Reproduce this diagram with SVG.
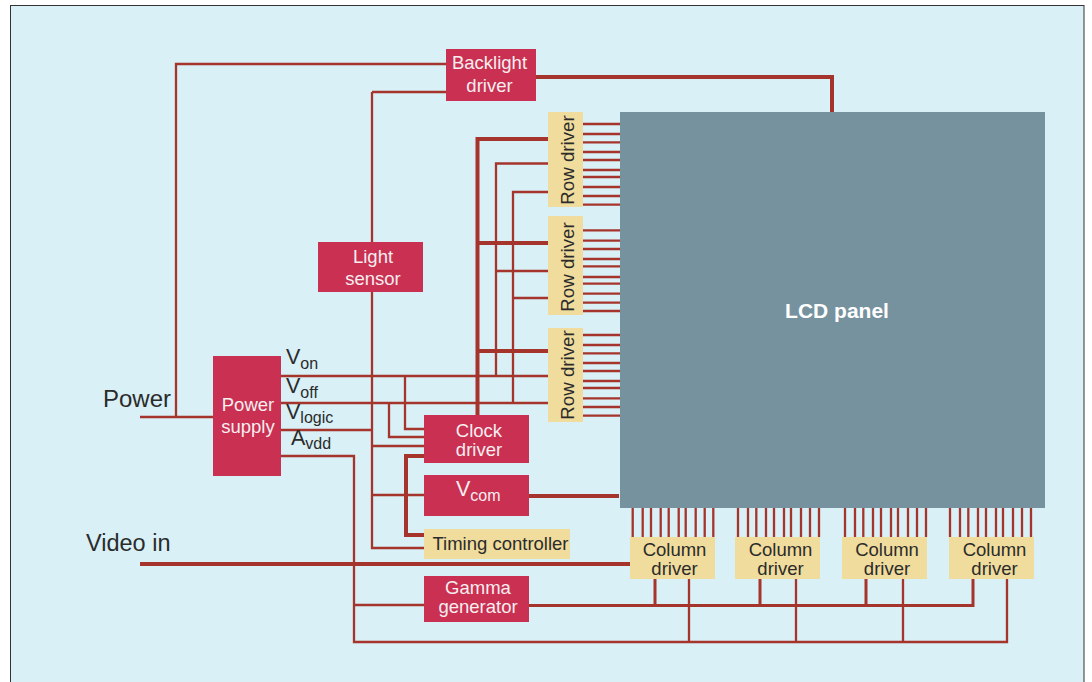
<svg xmlns="http://www.w3.org/2000/svg" width="1092" height="682" viewBox="0 0 1092 682">
<style>
text{font-family:"Liberation Sans",Arial,sans-serif;font-size:18.5px;text-anchor:middle;fill:#2b2b2b}
.red{fill:#c93052}.tan{fill:#f0dc9c}
.w{fill:#f7eef0}
.ext{font-size:24px;text-anchor:start}
.v{font-size:21.5px;text-anchor:start}
.sub{font-size:16px}
.c path{fill:none;stroke:#a5352c;stroke-width:2.3}
.c path.t{stroke-width:4}
.c path.m{stroke-width:3}
.rd{font-size:18.7px}
</style>
<rect width="1092" height="682" fill="#fff"/>
<rect x="10.500" y="5.500" width="1073.500" height="690" fill="#d8f0f6" stroke="#333" stroke-width="1"/>
<g id="connectors" class="c">
<path d="M140 417H213M176 417V64H446M372 92H446M372 92V548H424M372 446H424M372 495H424"/>
<path d="M281 376H548M281 403H548M281 430H372M281 456H354V642H1007V579M354 605H424"/>
<path d="M405 376V429H424M389 403V437H424"/>
<path class="t" d="M424 456H406V535H424"/>
<path class="t" d="M529 496H619"/>
<path class="t" d="M140 564H630"/>
<path class="t" d="M536 77H832V112"/>
<path class="t" d="M477.500 415V139H548M477.500 243H548M477.500 351H548"/>
<path d="M496 376V163.500H548M496 271H548M513 403V192H548M513 298H548"/>
<path class="m" d="M529 605.500H973V579M655 579V605.500M760 579V605.500M866 579V605.500"/>
<path d="M689 579V642M796 579V642M903 579V642"/>
<path d="M583 124H620M583 134H620M583 142.300H620M583 152H620M583 160H620M583 170H620M583 177H620M583 187H620M583 196H620M583 204.700H620"/>
<path d="M583 230.300H620M583 240.700H620M583 249H620M583 259H620M583 266.300H620M583 277H620M583 283.700H620M583 293.700H620M583 302.700H620M583 311H620"/>
<path d="M583 335H620M583 345H620M583 353.300H620M583 363H620M583 371H620M583 381H620M583 388H620M583 398.300H620M583 407H620M583 415.700H620"/>
<path d="M632.700 508V537M642.700 508V537M651 508V537M660.700 508V537M668.700 508V537M678.700 508V537M685.700 508V537M695.700 508V537M704.700 508V537M713.300 508V537"/>
<path d="M738 508V537M748 508V537M756.300 508V537M766 508V537M774 508V537M784 508V537M791 508V537M801 508V537M810 508V537M819 508V537"/>
<path d="M845 508V537M855 508V537M863.300 508V537M873 508V537M881 508V537M891 508V537M898 508V537M908 508V537M917 508V537M926 508V537"/>
<path d="M950 508V537M960 508V537M968.300 508V537M978 508V537M986 508V537M996 508V537M1003 508V537M1013 508V537M1022 508V537M1031 508V537"/>
</g>
<g id="lcd-panel"><rect x="620" y="112" width="425" height="396" fill="#76929f"/><text x="837" y="318" style="font-size:21px;font-weight:bold;fill:#fff">LCD panel</text></g>
<g id="backlight-driver"><rect class="red" x="446" y="49" width="90" height="52"/><text class="w" x="489.500" y="69">Backlight</text><text class="w" x="489.500" y="92">driver</text></g>
<g id="light-sensor"><rect class="red" x="318" y="242" width="105" height="50"/><text class="w" x="373" y="263">Light</text><text class="w" x="373" y="285">sensor</text></g>
<g id="power-supply"><rect class="red" x="213" y="356" width="68" height="120"/><text class="w" x="248" y="411">Power</text><text class="w" x="248" y="433">supply</text></g>
<g id="clock-driver"><rect class="red" x="424" y="415" width="105" height="48"/><text class="w" x="479" y="436.500">Clock</text><text class="w" x="479" y="456">driver</text></g>
<g id="vcom"><rect class="red" x="424" y="475" width="105" height="41"/><text class="w v" x="456" y="496">V<tspan class="sub" dy="5">com</tspan></text></g>
<g id="timing-controller"><rect class="tan" x="424" y="529" width="146" height="30"/><text x="500.500" y="550">Timing controller</text></g>
<g id="gamma-generator"><rect class="red" x="424" y="576" width="105" height="46"/><text class="w" x="478" y="594">Gamma</text><text class="w" x="478" y="613">generator</text></g>
<g id="row-driver-1"><rect class="tan" x="548" y="112" width="35" height="95"/><text class="rd" transform="translate(574 160) rotate(-90)">Row driver</text></g>
<g id="row-driver-2"><rect class="tan" x="548" y="216" width="35" height="99"/><text class="rd" transform="translate(574 267) rotate(-90)">Row driver</text></g>
<g id="row-driver-3"><rect class="tan" x="548" y="328" width="35" height="94"/><text class="rd" transform="translate(574 375) rotate(-90)">Row driver</text></g>
<g id="column-driver-1"><rect class="tan" x="630" y="537" width="85" height="42"/><text x="674.500" y="556">Column</text><text x="674.500" y="575">driver</text></g>
<g id="column-driver-2"><rect class="tan" x="735" y="537" width="85" height="42"/><text x="780.500" y="556">Column</text><text x="780.500" y="575">driver</text></g>
<g id="column-driver-3"><rect class="tan" x="842" y="537" width="85" height="42"/><text x="887" y="556">Column</text><text x="887" y="575">driver</text></g>
<g id="column-driver-4"><rect class="tan" x="949" y="537" width="85" height="42"/><text x="994.500" y="556">Column</text><text x="994.500" y="575">driver</text></g>
<g id="labels">
<text class="ext" x="103" y="407">Power</text>
<text class="ext" x="86" y="551" style="font-size:23.500px">Video in</text>
<text class="v" x="286" y="364">V<tspan class="sub" dy="5">on</tspan></text>
<text class="v" x="286" y="393">V<tspan class="sub" dy="5">off</tspan></text>
<text class="v" x="286" y="419">V<tspan class="sub" dy="4">logic</tspan></text>
<text class="v" x="291" y="445">A<tspan class="sub" dy="4">vdd</tspan></text>
</g>
</svg>
